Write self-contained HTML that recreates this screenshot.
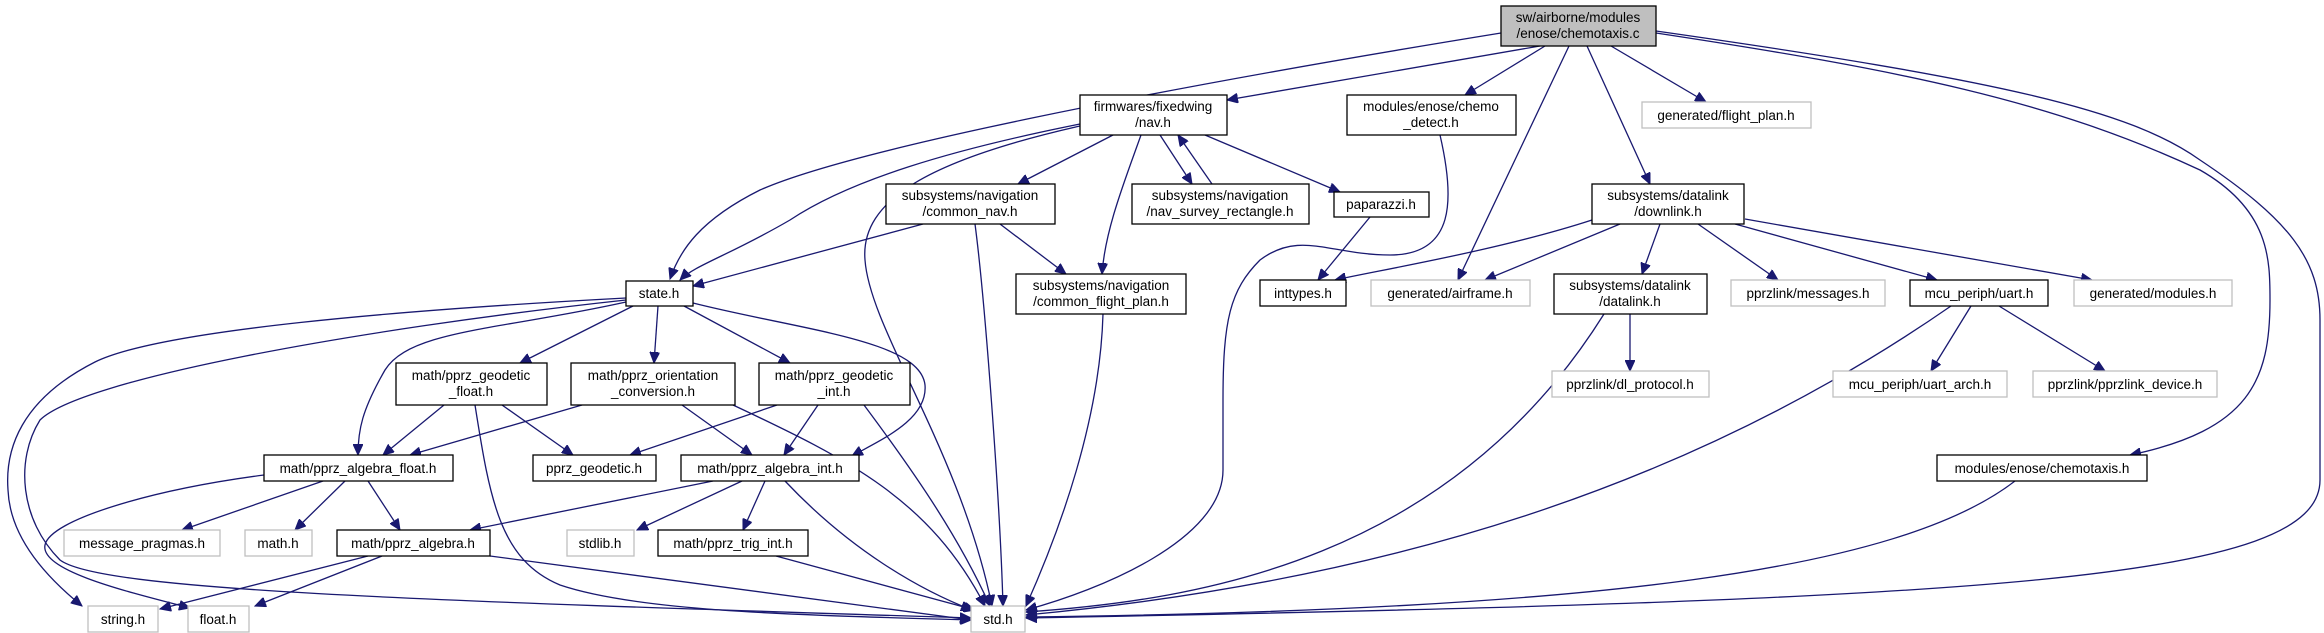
<!DOCTYPE html>
<html><head><meta charset="utf-8"><style>
html,body{margin:0;padding:0;background:#fff;}
svg{display:block;}
text{font-family:"Liberation Sans",sans-serif;font-size:13.5px;fill:#000;text-anchor:middle;}
.e{fill:none;stroke:#191970;stroke-width:1.3;marker-end:url(#a);}
.n{fill:#fff;stroke:#000;stroke-width:1.3;}
.g{fill:#fff;stroke:#bfbfbf;stroke-width:1.3;}
</style></head><body>
<svg width="2324" height="633" viewBox="0 0 2324 633" xmlns="http://www.w3.org/2000/svg">
<defs><marker id="a" markerUnits="userSpaceOnUse" markerWidth="12" markerHeight="10" refX="11" refY="5" orient="auto"><path d="M0,0 L11,5 L0,10 z" fill="#191970" stroke="#191970"/></marker></defs>
<g>
<path class="e" d="M1501,33 C1150,90 850,150 760,190 C700,220 680,250 670,279"/>
<path class="e" d="M1540,46 L1227,100"/>
<path class="e" d="M1545,46 L1465,95"/>
<path class="e" d="M1569,46 L1458,280"/>
<path class="e" d="M1587,46 L1650,184"/>
<path class="e" d="M1611,46 L1706,102"/>
<path class="e" d="M1656,33 C1900,70 2050,100 2200,170 C2270,210 2270,260 2270,300 C2270,380 2250,430 2130,455"/>
<path class="e" d="M1656,31 C2000,80 2130,110 2200,160 C2290,220 2320,260 2320,320 L2320,480 C2320,580 2000,600 1026,618"/>
<path class="e" d="M1080,124 C950,150 850,180 790,220 C730,255 695,265 680,280"/>
<path class="e" d="M1080,126 C930,160 860,200 865,260 C870,330 960,450 992,606"/>
<path class="e" d="M1113,135 L1018,184"/>
<path class="e" d="M1141,135 C1125,180 1105,230 1102,274"/>
<path class="e" d="M1160,135 L1192,184"/>
<path class="e" d="M1212,184 L1178,135"/>
<path class="e" d="M1205,135 L1340,192"/>
<path class="e" d="M923,224 L693,286"/>
<path class="e" d="M1000,224 L1066,274"/>
<path class="e" d="M975,224 C985,300 1000,500 1003,606"/>
<path class="e" d="M1440,135 C1455,200 1455,255 1390,255 C1330,255 1300,230 1260,260 C1230,290 1223,320 1223,400 L1223,470 C1223,540 1100,590 1026,610"/>
<path class="e" d="M1370,217 L1318,280"/>
<path class="e" d="M1592,220 C1500,250 1380,270 1335,280"/>
<path class="e" d="M1620,224 L1485,280"/>
<path class="e" d="M1660,224 L1642,274"/>
<path class="e" d="M1698,224 L1778,280"/>
<path class="e" d="M1735,224 L1937,280"/>
<path class="e" d="M1745,219 L2092,280"/>
<path class="e" d="M1630,314 L1630,371"/>
<path class="e" d="M1604,314 C1450,560 1200,600 1026,612"/>
<path class="e" d="M1951,306 C1700,480 1400,580 1026,615"/>
<path class="e" d="M1971,306 L1931,371"/>
<path class="e" d="M1999,306 L2105,371"/>
<path class="e" d="M2015,481 C1900,570 1600,610 1026,617"/>
<path class="e" d="M1103,314 C1100,420 1060,530 1026,606"/>
<path class="e" d="M626,298 C400,310 160,330 95,362 C20,400 5,450 8,490 C10,540 50,580 82,606"/>
<path class="e" d="M626,300 C350,330 80,380 40,420 C15,460 20,520 60,560 C100,590 400,600 971,618"/>
<path class="e" d="M626,302 C500,330 410,330 385,370 C362,410 358,430 358,455"/>
<path class="e" d="M633,306 L520,363"/>
<path class="e" d="M658,306 L654,363"/>
<path class="e" d="M684,306 L790,363"/>
<path class="e" d="M693,303 C800,330 920,340 925,385 C928,420 880,440 852,456"/>
<path class="e" d="M444,405 L383,455"/>
<path class="e" d="M502,405 L573,455"/>
<path class="e" d="M475,405 C490,500 500,560 560,585 C640,612 800,615 971,620"/>
<path class="e" d="M582,405 L410,455"/>
<path class="e" d="M682,405 L752,455"/>
<path class="e" d="M733,405 C850,460 930,500 985,606"/>
<path class="e" d="M777,405 L630,455"/>
<path class="e" d="M818,405 L784,455"/>
<path class="e" d="M864,405 C920,480 960,540 990,606"/>
<path class="e" d="M264,475 C150,490 50,520 45,545 C40,570 120,590 190,608"/>
<path class="e" d="M323,481 L182,530"/>
<path class="e" d="M345,481 L295,530"/>
<path class="e" d="M368,481 L400,530"/>
<path class="e" d="M713,481 L470,530"/>
<path class="e" d="M742,481 L637,530"/>
<path class="e" d="M765,481 L743,530"/>
<path class="e" d="M785,481 C850,550 920,590 972,610"/>
<path class="e" d="M368,556 L160,609"/>
<path class="e" d="M382,556 L255,606"/>
<path class="e" d="M490,556 L971,620"/>
<path class="e" d="M776,556 L975,610"/>
</g>
<g>
<rect x="1501" y="6" width="155" height="40" fill="#bfbfbf" stroke="#000" stroke-width="1.3"/><text x="1578" y="22">sw/airborne/modules</text><text x="1578" y="38">/enose/chemotaxis.c</text>
<rect class="n" x="1080" y="95" width="147" height="40"/><text x="1153" y="111">firmwares/fixedwing</text><text x="1153" y="127">/nav.h</text>
<rect class="n" x="1347" y="95" width="169" height="40"/><text x="1431" y="111">modules/enose/chemo</text><text x="1431" y="127">_detect.h</text>
<rect class="g" x="1642" y="102" width="169" height="26"/><text x="1726" y="120">generated/flight_plan.h</text>
<rect class="n" x="886" y="184" width="169" height="40"/><text x="970" y="200">subsystems/navigation</text><text x="970" y="216">/common_nav.h</text>
<rect class="n" x="1132" y="184" width="177" height="40"/><text x="1220" y="200">subsystems/navigation</text><text x="1220" y="216">/nav_survey_rectangle.h</text>
<rect class="n" x="1334" y="192" width="95" height="25"/><text x="1381" y="209">paparazzi.h</text>
<rect class="n" x="1592" y="184" width="152" height="40"/><text x="1668" y="200">subsystems/datalink</text><text x="1668" y="216">/downlink.h</text>
<rect class="n" x="626" y="281" width="67" height="25"/><text x="659" y="298">state.h</text>
<rect class="n" x="1016" y="274" width="170" height="40"/><text x="1101" y="290">subsystems/navigation</text><text x="1101" y="306">/common_flight_plan.h</text>
<rect class="n" x="1260" y="280" width="86" height="26"/><text x="1303" y="298">inttypes.h</text>
<rect class="g" x="1371" y="280" width="159" height="26"/><text x="1450" y="298">generated/airframe.h</text>
<rect class="n" x="1554" y="274" width="153" height="40"/><text x="1630" y="290">subsystems/datalink</text><text x="1630" y="306">/datalink.h</text>
<rect class="g" x="1731" y="280" width="154" height="26"/><text x="1808" y="298">pprzlink/messages.h</text>
<rect class="n" x="1910" y="280" width="138" height="26"/><text x="1979" y="298">mcu_periph/uart.h</text>
<rect class="g" x="2074" y="280" width="158" height="26"/><text x="2153" y="298">generated/modules.h</text>
<rect class="n" x="396" y="363" width="151" height="42"/><text x="471" y="380">math/pprz_geodetic</text><text x="471" y="396">_float.h</text>
<rect class="n" x="571" y="363" width="164" height="42"/><text x="653" y="380">math/pprz_orientation</text><text x="653" y="396">_conversion.h</text>
<rect class="n" x="759" y="363" width="151" height="42"/><text x="834" y="380">math/pprz_geodetic</text><text x="834" y="396">_int.h</text>
<rect class="g" x="1552" y="371" width="157" height="26"/><text x="1630" y="389">pprzlink/dl_protocol.h</text>
<rect class="g" x="1833" y="371" width="174" height="26"/><text x="1920" y="389">mcu_periph/uart_arch.h</text>
<rect class="g" x="2033" y="371" width="184" height="26"/><text x="2125" y="389">pprzlink/pprzlink_device.h</text>
<rect class="n" x="264" y="455" width="189" height="26"/><text x="358" y="473">math/pprz_algebra_float.h</text>
<rect class="n" x="533" y="455" width="123" height="26"/><text x="594" y="473">pprz_geodetic.h</text>
<rect class="n" x="681" y="455" width="178" height="26"/><text x="770" y="473">math/pprz_algebra_int.h</text>
<rect class="n" x="1937" y="455" width="210" height="26"/><text x="2042" y="473">modules/enose/chemotaxis.h</text>
<rect class="g" x="64" y="530" width="156" height="26"/><text x="142" y="548">message_pragmas.h</text>
<rect class="g" x="245" y="530" width="67" height="26"/><text x="278" y="548">math.h</text>
<rect class="n" x="337" y="530" width="153" height="26"/><text x="413" y="548">math/pprz_algebra.h</text>
<rect class="g" x="567" y="530" width="67" height="26"/><text x="600" y="548">stdlib.h</text>
<rect class="n" x="658" y="530" width="150" height="26"/><text x="733" y="548">math/pprz_trig_int.h</text>
<rect class="g" x="88" y="606" width="70" height="26"/><text x="123" y="624">string.h</text>
<rect class="g" x="188" y="606" width="61" height="26"/><text x="218" y="624">float.h</text>
<rect class="g" x="971" y="606" width="54" height="26"/><text x="998" y="624">std.h</text>
</g>
</svg>
</body></html>
